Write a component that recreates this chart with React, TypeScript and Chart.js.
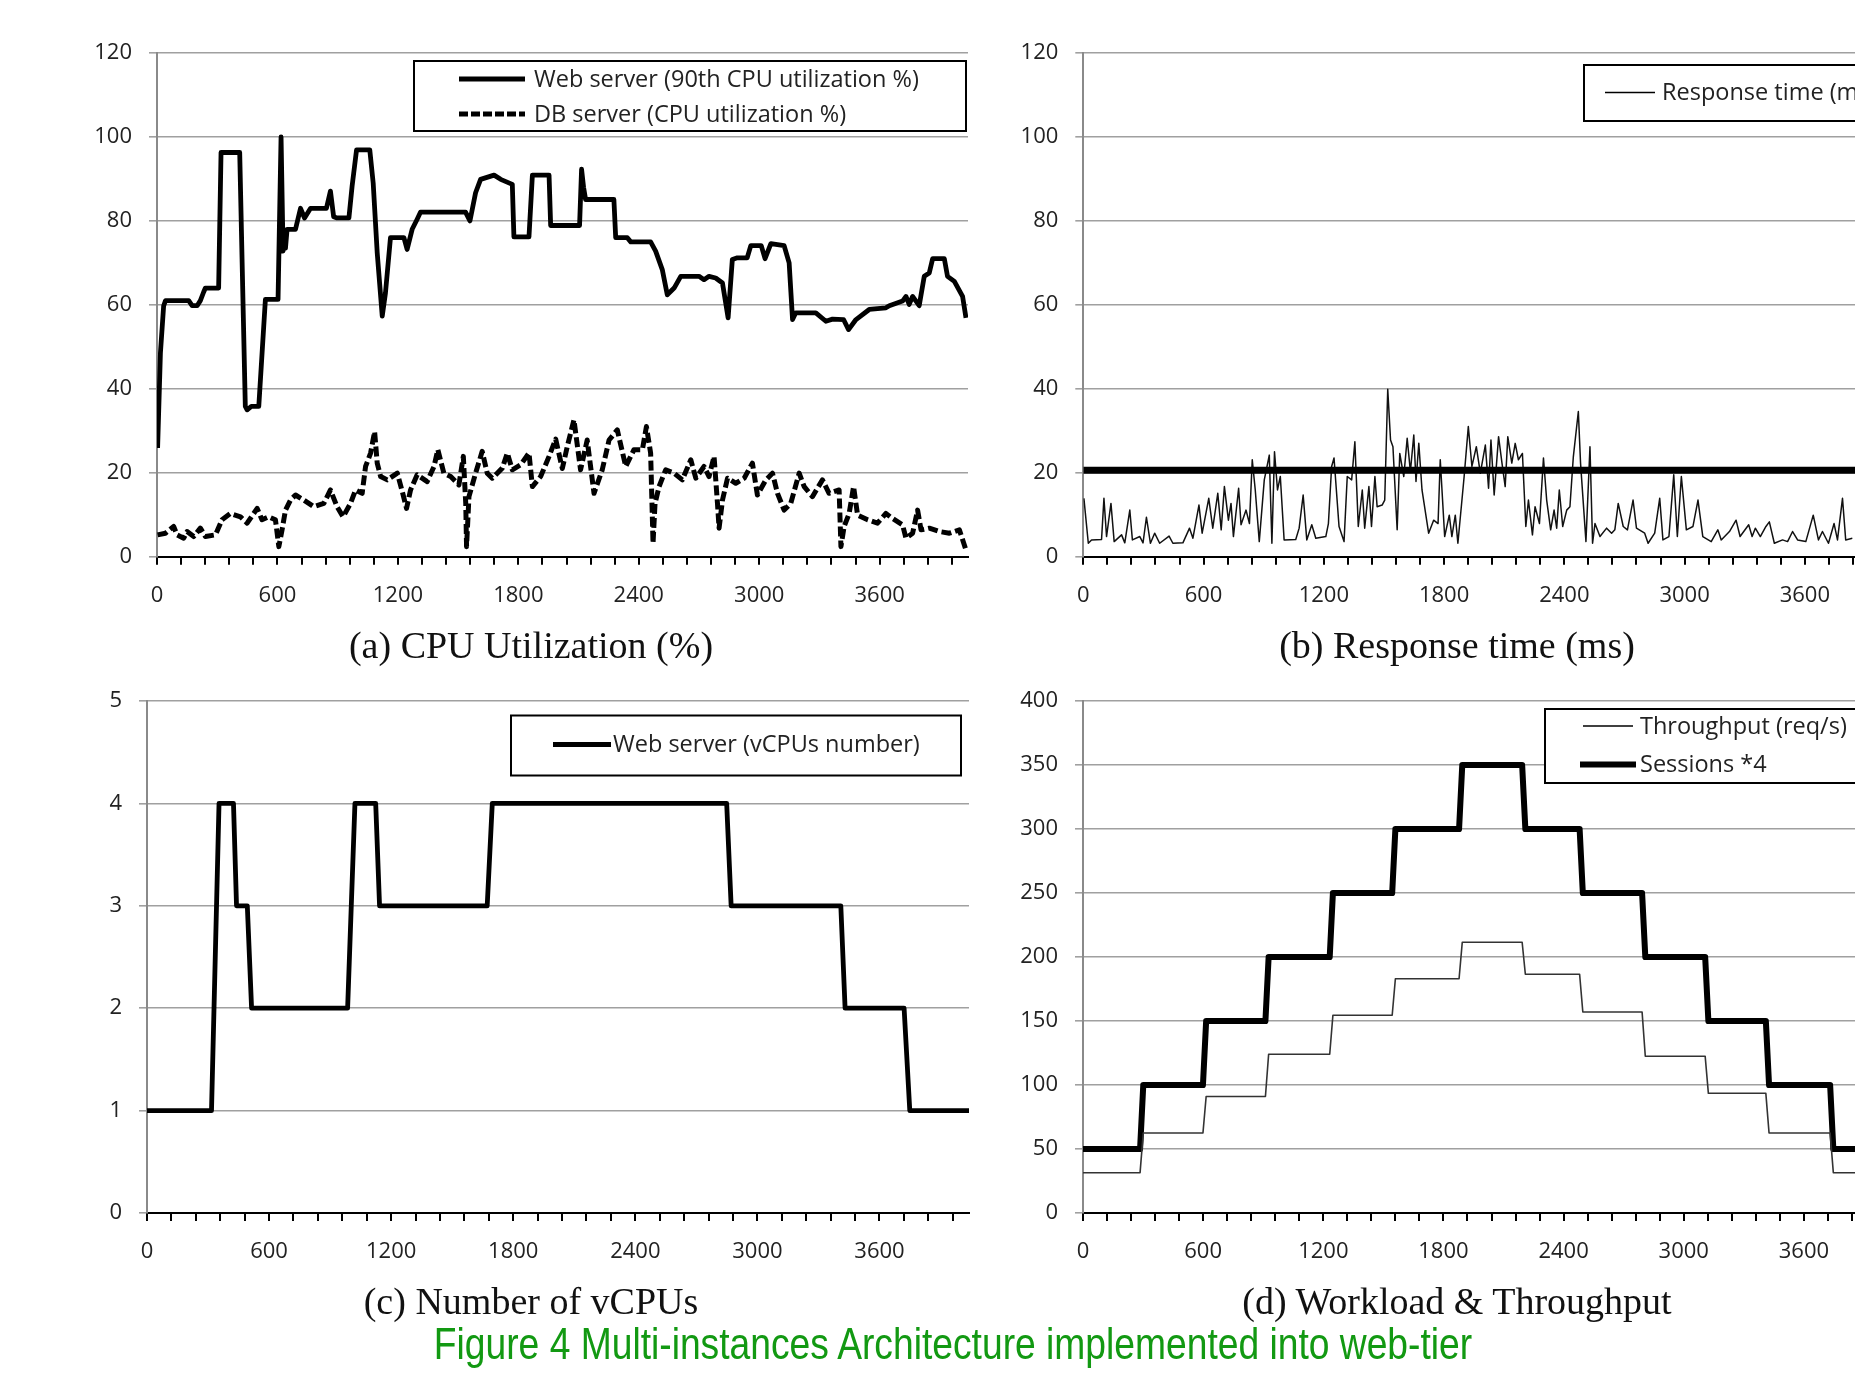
import React, { useEffect, useRef } from "react";
import { Chart, registerables } from "chart.js";

Chart.register(...registerables);

// ---------- DATA ----------
const timeMax = 4040;
const xLabelEvery = 600;
const xTickStep = 120;

// (a) CPU utilization
const webCpuTime = [3,17,33,42,158,175,200,216,232,241,307,319,412,440,449,470,507,540,603,618,628,635,640,648,690,715,735,765,844,864,880,897,956,972,994,1060,1077,1097,1122,1138,1163,1230,1246,1271,1296,1313,1537,1559,1587,1612,1679,1712,1770,1778,1853,1870,1953,1961,2105,2115,2125,2135,2276,2285,2343,2360,2459,2484,2517,2542,2576,2609,2700,2725,2750,2783,2817,2845,2866,2891,2940,2958,3010,3029,3058,3124,3149,3166,3182,3282,3332,3365,3420,3445,3482,3548,3631,3648,3714,3731,3747,3764,3797,3822,3847,3864,3922,3938,3972,4013,4030];
const webCpuValue = [25.9,48.5,59.7,61,61,59.8,59.8,61,63,64,64,96.3,96.3,35.8,35,35.8,35.8,61.3,61.3,100,72.8,76,73.5,78,78,83,80.7,83,83,87.1,81,80.7,80.7,88.3,96.9,96.9,89,72.4,57.3,62.8,76,76,73.2,78,80.4,82.1,82.1,80,86.7,89.9,90.9,89.9,88.7,76.2,76.2,90.9,90.9,78.9,78.9,92.3,88,85.1,85.1,76,76,75,75,72.8,68.4,62.4,64,66.8,66.8,66,66.8,66.4,65.2,56.9,70.8,71.2,71.2,74.1,74.1,71,74.6,74.1,70,56.5,58.1,58.1,56.1,56.6,56.5,54.1,56.5,58.9,59.3,59.8,60.9,62,60.1,62,59.8,66.8,67.6,71,71,66.8,65.6,62,56.9];
const dbCpuTime = [3,42,83,100,133,150,183,216,241,291,324,366,416,449,499,523,557,590,607,623,640,665,690,731,781,831,864,897,927,964,989,1022,1039,1064,1084,1097,1114,1147,1197,1222,1243,1263,1296,1346,1380,1399,1429,1463,1504,1526,1538,1542,1554,1587,1620,1645,1670,1720,1745,1770,1812,1853,1870,1911,1953,1986,2019,2044,2077,2110,2143,2177,2218,2252,2293,2335,2376,2418,2438,2459,2471,2481,2501,2534,2576,2617,2659,2684,2725,2750,2775,2792,2800,2817,2842,2883,2925,2966,2991,3033,3066,3091,3124,3157,3199,3224,3265,3315,3348,3398,3407,3423,3448,3470,3490,3540,3589,3631,3664,3714,3731,3764,3789,3806,3847,3897,3947,3997,4027];
const dbCpuValue = [5.2,5.6,7.2,5.2,4.4,6,4.8,6.8,4.8,5.2,8.8,10.3,9.5,8,11.5,8.8,9.5,8.8,2.4,6.4,11.1,13.5,14.7,13.5,11.9,12.7,15.9,11.9,9.5,12.7,15.9,15.1,21.5,24.7,29.8,22.3,19.1,18.3,19.9,15.5,11.5,15.9,19.5,17.9,21.5,25.5,19.9,19.1,17.1,23.9,12.7,2.4,14.3,19.9,25.1,19.9,18.7,21.1,24.7,20.7,21.9,24.7,16.7,19.1,23.9,28,21,26.3,32.6,20.7,27.8,15.1,20.7,27.8,30.2,21.5,25.5,25.5,31,24.7,3.2,12.7,16.7,20.7,19.9,18.3,23.1,18.7,21.5,19.1,23.9,12.7,6.8,13.5,18.7,17.5,18.7,22.3,14.7,18.3,19.9,15.1,11.1,12.7,19.9,16.7,14.3,18.3,15.1,15.9,2.4,7.2,10.3,16.7,9.9,8.8,8,10.3,9.1,7.6,4.4,5.6,11.1,6.4,6.8,6,5.6,6.4,2];

// (b) Response time
const respTime = [3,25,41,91,103,116,138,154,191,207,232,245,282,298,315,335,356,381,428,447,497,530,547,577,593,626,646,671,688,704,724,737,749,775,787,812,829,843,858,878,903,928,941,954,969,983,1002,1060,1077,1097,1115,1140,1160,1210,1223,1239,1251,1276,1301,1317,1339,1355,1372,1392,1404,1425,1438,1455,1466,1491,1504,1519,1533,1545,1566,1579,1599,1616,1632,1649,1660,1674,1690,1723,1748,1770,1781,1803,1826,1839,1856,1869,1900,1921,1939,1961,1981,2006,2022,2034,2050,2072,2089,2105,2118,2138,2155,2171,2191,2208,2221,2241,2254,2276,2296,2312,2332,2349,2362,2375,2392,2412,2428,2445,2470,2481,2508,2528,2541,2553,2578,2611,2636,2652,2669,2694,2715,2743,2760,2801,2818,2851,2876,2892,2922,2946,2964,2984,3009,3042,3067,3091,3133,3166,3183,3224,3257,3277,3320,3337,3353,3378,3406,3423,3448,3489,3514,3539,3564,3605,3642,3668,3688,3718,3746,3763,3788,3804,3837];
const respValue = [13.9,3.2,4,4.1,13.9,4.8,12.7,3.6,5.2,3.3,11.1,4,4.8,3.3,9.4,3.2,5.6,3.2,4.9,3.2,3.3,6.8,4.4,12.3,5.6,13.9,6.8,15.1,6.4,16.7,8.7,12.7,4.8,16.3,7.6,11.1,7.9,23.1,15.9,3.6,18.3,24.2,3.2,25,15.9,19.1,4,4.1,6.8,14.7,4,7.6,4.4,4.8,7.9,21.5,23.5,7.2,3.6,19.1,18.3,27.4,7.2,15.9,6.8,16.7,7.2,19.1,11.9,12.3,13.5,39.9,27.8,26.2,6.4,24.6,19.1,28.2,20.3,29,17.9,27,15.9,5.6,8.7,7.9,23.1,4.8,9.9,4.8,9.9,3.2,19,31,21.5,26.2,19.9,26.6,16.3,27.8,14.7,28.6,22.3,16.7,28.6,22.3,27,23.1,24.6,7.2,13.5,5.2,11.9,7.9,23.5,13.5,6.4,11.1,6.8,15.9,7.2,11.1,11.9,23.8,34.6,22.3,3.6,26.2,3.2,7.9,4.8,6.8,5.6,6.4,12.7,7.2,6.4,13.5,6.8,5.6,3.2,5.6,13.9,4,4.8,19.5,4.8,19.1,6.4,7.2,13.5,4.8,3.6,6.4,4,6,8.7,4.8,7.6,4.8,6.8,4.8,7.2,8.3,3.2,4,3.6,6,4,3.6,9.9,4,6,3.2,7.9,4,13.9,4,4.4];
const respThreshold = 20.6;

// (c) vCPUs
const vcpuTime = [0,317,354,425,440,493,514,986,1022,1124,1143,1672,1697,2849,2871,3410,3431,3721,3749,4040];
const vcpuValue = [1,1,4,4,3,3,2,2,4,4,3,3,4,4,3,3,2,2,1,1];

// (d) Workload & throughput
const stepChangeTimes = [293,607,919,1240,1552,1886,2201,2488,2800,3115,3418,3739];
const sessionsX4 = [50,100,150,200,250,300,350,300,250,200,150,100,50];
const throughput = [31.5,62.5,91,124,154.5,183,211.5,186.5,157,122.5,93.5,62.5,31.5];

// ---------- helpers ----------
const zip = (xs: number[], ys: number[]) =>
  xs.slice(0, Math.min(xs.length, ys.length)).map((x, i) => ({ x, y: ys[i] }));

const stepSeries = (levels: number[], changes: number[]) => {
  const pts = [{ x: 0, y: levels[0] }];
  changes.forEach((t, i) => {
    pts.push({ x: t - 8, y: levels[i] });
    pts.push({ x: t + 8, y: levels[i + 1] });
  });
  pts.push({ x: timeMax, y: levels[levels.length - 1] });
  return pts;
};

const FONT = "'Open Sans', 'Noto Sans', sans-serif";
const TICK_COLOR = "#222";
const Y_W = 80;
const X_H = 60;

const xAxis = () => ({
  type: "linear",
  min: 0,
  max: timeMax,
  afterFit: (s: any) => { s.height = X_H; },
  border: { display: true, color: "#000", width: 2 },
  grid: { drawOnChartArea: false, drawTicks: true, tickLength: 8, color: "#000", lineWidth: 2 },
  ticks: {
    stepSize: xTickStep,
    includeBounds: false,
    autoSkip: false,
    maxRotation: 0,
    minRotation: 0,
    padding: 18,
    color: TICK_COLOR,
    font: { family: FONT, size: 22 },
    callback: (v: any) => (Math.round(v) % xLabelEvery === 0 ? String(Math.round(v)) : ""),
  },
});

const yAxis = (max: number, step: number) => ({
  min: 0,
  max,
  afterFit: (s: any) => { s.width = Y_W; },
  border: { display: true, color: "#8a8a8a", width: 2 },
  grid: { color: "#a0a0a0", lineWidth: 1.6, tickLength: 8, drawTicks: true },
  ticks: { stepSize: step, padding: 17, color: TICK_COLOR, font: { family: FONT, size: 22 } },
});

type LegendItem = { text: string; x1: number; x2: number; y: number; width: number; dash?: number[]; color?: string; tx: number };
const boxLegend = (box: number[], items: LegendItem[]) => ({
  id: "boxLegend",
  afterDraw(chart: any) {
    const ctx = chart.ctx as CanvasRenderingContext2D;
    ctx.save();
    const [bx, by, bw, bh] = box;
    ctx.fillStyle = "#fff";
    ctx.fillRect(bx, by, bw, bh);
    ctx.strokeStyle = "#000";
    ctx.lineWidth = 2;
    ctx.strokeRect(bx, by, bw, bh);
    ctx.font = `23.5px ${FONT}`;
    ctx.textBaseline = "middle";
    for (const it of items) {
      ctx.beginPath();
      ctx.setLineDash(it.dash || []);
      ctx.lineWidth = it.width;
      ctx.strokeStyle = it.color || "#000";
      ctx.moveTo(it.x1, it.y);
      ctx.lineTo(it.x2, it.y);
      ctx.stroke();
      ctx.setLineDash([]);
      ctx.fillStyle = TICK_COLOR;
      ctx.fillText(it.text, it.tx, it.y + 1);
    }
    ctx.restore();
  },
});

const baseOptions = (pad: { left: number; right: number; top: number; bottom: number }, yMax: number, yStep: number) => ({
  animation: false,
  responsive: false,
  devicePixelRatio: 1,
  layout: { padding: pad },
  plugins: { legend: { display: false }, tooltip: { enabled: false } },
  elements: { point: { radius: 0 }, line: { tension: 0, borderJoinStyle: "round" } },
  scales: { x: xAxis(), y: yAxis(yMax, yStep) },
});

// ---------- chart configs ----------
const configA = () => ({
  type: "line",
  data: {
    datasets: [
      { label: "Web server (90th CPU utilization %)", data: zip(webCpuTime, webCpuValue), borderColor: "#000", borderWidth: 4.8, fill: false },
      { label: "DB server (CPU utilization %)", data: zip(dbCpuTime, dbCpuValue), borderColor: "#000", borderWidth: 5, borderDash: [10, 4], fill: false },
    ],
  },
  options: baseOptions({ left: 157 - Y_W, right: 22, top: 53, bottom: 640 - X_H - 556.7 }, 120, 20),
  plugins: [
    boxLegend([414, 61, 552, 70], [
      { text: "Web server (90th CPU utilization %)", x1: 459, x2: 525, y: 79, width: 4.8, tx: 534 },
      { text: "DB server (CPU utilization %)", x1: 459, x2: 525, y: 114, width: 4.8, dash: [9, 3], tx: 534 },
    ]),
  ],
});

const configB = () => ({
  type: "line",
  data: {
    datasets: [
      { label: "SLA", data: [{ x: 0, y: respThreshold }, { x: timeMax, y: respThreshold }], borderColor: "#000", borderWidth: 7, fill: false },
      { label: "Response time (ms)", data: zip(respTime, respValue), borderColor: "#111", borderWidth: 1.5, fill: false },
    ],
  },
  options: baseOptions({ left: 1083.3 - 990 - Y_W, right: 27, top: 53, bottom: 640 - X_H - 556.7 }, 120, 20),
  plugins: [
    boxLegend([594, 65, 400, 56], [
      { text: "Response time (ms)", x1: 615, x2: 665, y: 92.5, width: 1.5, tx: 672 },
    ]),
  ],
});

const configC = () => ({
  type: "line",
  data: {
    datasets: [
      { label: "Web server (vCPUs number)", data: zip(vcpuTime, vcpuValue), borderColor: "#000", borderWidth: 4.8, fill: false },
    ],
  },
  options: baseOptions({ left: 147 - Y_W, right: 21, top: 41, bottom: 27 }, 5, 1),
  plugins: [
    boxLegend([511, 55.5, 450, 60], [
      { text: "Web server (vCPUs number)", x1: 553, x2: 611, y: 84.5, width: 4.8, tx: 613 },
    ]),
  ],
});

const configD = () => ({
  type: "line",
  data: {
    datasets: [
      { label: "Throughput (req/s)", data: stepSeries(throughput, stepChangeTimes), borderColor: "#333", borderWidth: 1.6, fill: false },
      { label: "Sessions *4", data: stepSeries(sessionsX4, stepChangeTimes), borderColor: "#000", borderWidth: 6, fill: false },
    ],
  },
  options: baseOptions({ left: 1083 - 990 - Y_W, right: 28, top: 41, bottom: 27 }, 400, 50),
  plugins: [
    boxLegend([555, 49, 400, 74], [
      { text: "Throughput (req/s)", x1: 593, x2: 643, y: 66, width: 1.5, tx: 650 },
      { text: "Sessions *4", x1: 590, x2: 646, y: 104.5, width: 6, tx: 650 },
    ]),
  ],
});

// ---------- components ----------
function ChartBox(props: { left: number; top: number; width: number; height: number; make: () => any }) {
  const ref = useRef<HTMLCanvasElement>(null);
  useEffect(() => {
    const chart = new Chart(ref.current as HTMLCanvasElement, props.make());
    return () => chart.destroy();
  }, []);
  return (
    <canvas
      ref={ref}
      width={props.width}
      height={props.height}
      style={{ position: "absolute", left: props.left, top: props.top, width: props.width, height: props.height }}
    />
  );
}

const captionStyle = (cx: number, top: number): React.CSSProperties => ({
  position: "absolute",
  left: cx - 400,
  top,
  width: 800,
  textAlign: "center",
  fontFamily: "'Liberation Serif', 'Times New Roman', serif",
  fontSize: 38,
  lineHeight: "38px",
  color: "#111",
  whiteSpace: "nowrap",
});

export default function App() {
  return (
    <div style={{ position: "fixed", left: 0, top: 0, width: 1855, height: 1376, overflow: "hidden", background: "#fff" }}>
      <ChartBox left={0} top={0} width={990} height={640} make={configA} />
      <ChartBox left={990} top={0} width={930} height={640} make={configB} />
      <ChartBox left={0} top={660} width={990} height={640} make={configC} />
      <ChartBox left={990} top={660} width={930} height={640} make={configD} />
      <div style={captionStyle(531, 626)}>(a) CPU Utilization (%)</div>
      <div style={captionStyle(1457, 626)}>(b) Response time (ms)</div>
      <div style={captionStyle(531, 1282)}>(c) Number of vCPUs</div>
      <div style={captionStyle(1457, 1282)}>(d) Workload &amp; Throughput</div>
      <div
        style={{
          position: "absolute",
          left: 953 - 700,
          top: 1321,
          width: 1400,
          textAlign: "center",
          fontFamily: "'Liberation Sans', Arial, sans-serif",
          fontSize: 45,
          lineHeight: "45px",
          color: "#129912",
          whiteSpace: "nowrap",
          transform: "scaleX(0.827)",
          transformOrigin: "center",
        }}
      >
        Figure 4 Multi-instances Architecture implemented into web-tier
      </div>
    </div>
  );
}
